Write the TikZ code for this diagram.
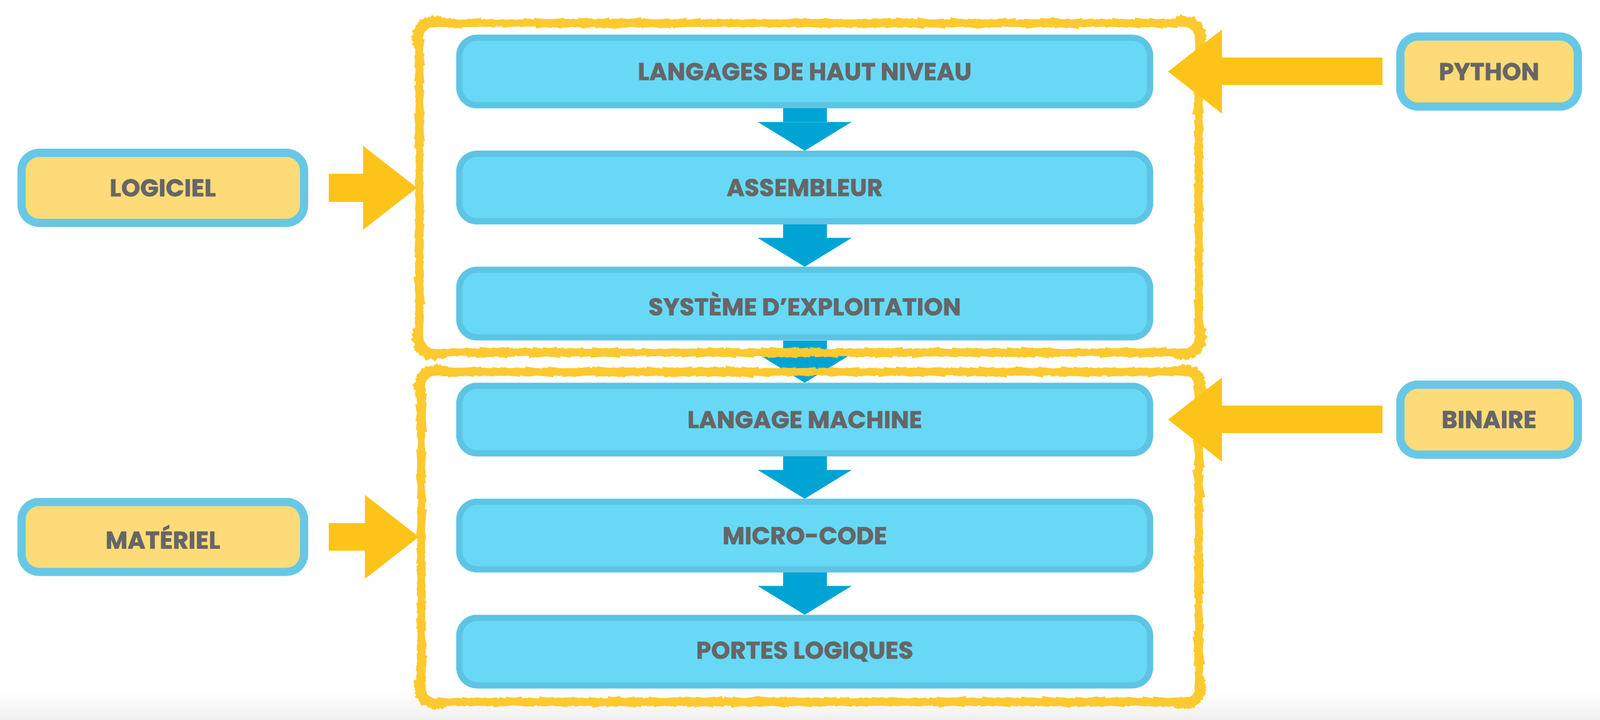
\documentclass[tikz,border=0pt]{standalone}
\usepackage{fontspec}
\setmainfont{Poppins}[BoldFeatures={FakeBold=1.4}]
\usetikzlibrary{arrows.meta,positioning,calc,decorations.pathmorphing}
\definecolor{cyanfill}{RGB}{103,217,246}
\definecolor{cyanrim}{RGB}{94,196,228}
\definecolor{sandfill}{RGB}{253,219,120}
\definecolor{sandrim}{RGB}{102,200,230}
\definecolor{amber}{RGB}{252,196,24}
\definecolor{deepblue}{RGB}{0,164,212}
\definecolor{txtgray}{RGB}{102,102,102}
\tikzset{
  layer/.style={draw=cyanrim, fill=cyanfill, line width=1mm, rounded corners=8pt,
                minimum width=11.05cm, minimum height=1.08cm, text=txtgray,
                font=\fontsize{11}{13}\selectfont\bfseries},
  tag/.style={draw=sandrim, fill=sandfill, line width=1.3mm, rounded corners=8pt,
              minimum height=1.12cm, text=txtgray,
              font=\fontsize{11}{13}\selectfont\bfseries},
  grp/.style={draw=amber!90, line width=2.3pt, rounded corners=7pt,
              decorate, decoration={random steps, segment length=0.8pt, amplitude=0.1pt}},
  downarr/.style={deepblue, line width=0.7cm,
                  -{Triangle[length=0.46cm, width=1.5cm, line width=0.1pt]}},
  sidearr/.style={amber, line width=0.44cm,
                  -{Triangle[length=0.86cm, width=1.34cm, line width=0.1pt]}},
}
\begin{document}
\begin{tikzpicture}
    \useasboundingbox (0,0) rectangle (25.6,-11.52);
    \shade[top color=white, bottom color=black!6] (0,-11.05) rectangle (25.6,-11.52);
    % layers
    \node[layer] (hl)  at (12.875,-1.145)  {LANGAGES DE HAUT NIVEAU};
    \node[layer] (asm) at (12.875,-3.001)  {ASSEMBLEUR};
    \node[layer] (os)  at (12.875,-4.857)  {SYSTÈME D’EXPLOITATION};
    \node[layer] (lm)  at (12.875,-6.713)  {LANGAGE MACHINE};
    \node[layer] (mc)  at (12.875,-8.569)  {MICRO-CODE};
    \node[layer] (pl)  at (12.875,-10.425) {PORTES LOGIQUES};
    \foreach \a/\b in {hl/asm, asm/os, os/lm, lm/mc, mc/pl}
      \draw[downarr] (\a) -- (\b);
    % groups
    \node[grp, minimum width=12.47cm, minimum height=5.27cm] (soft) at (12.945,-3.005) {};
    \node[grp, minimum width=12.44cm, minimum height=5.28cm] (hard) at (12.96,-8.59) {};
    % side tags
    \node[tag, minimum width=4.52cm] (logi) at (2.605,-3.005) {LOGICIEL};
    \node[tag, minimum width=4.52cm] (mat)  at (2.605,-8.59)  {MATÉRIEL};
    \node[tag, minimum width=2.84cm] (py)   at (23.825,-1.145) {PYTHON};
    \node[tag, minimum width=2.84cm] (bin)  at (23.825,-6.713) {BINAIRE};
    \coordinate (hlin) at ($(hl.east)+(0.24,0)$);
    \coordinate (lmin) at ($(lm.east)+(0.24,0)$);
    \draw[sidearr, shorten <=0.33cm] (logi) -- (soft);
    \draw[sidearr, shorten <=0.33cm] (mat) -- (hard);
    \draw[sidearr, shorten <=0.22cm] (py) -- (hlin);
    \draw[sidearr, shorten <=0.22cm] (bin) -- (lmin);
  \end{tikzpicture}
\end{document}
